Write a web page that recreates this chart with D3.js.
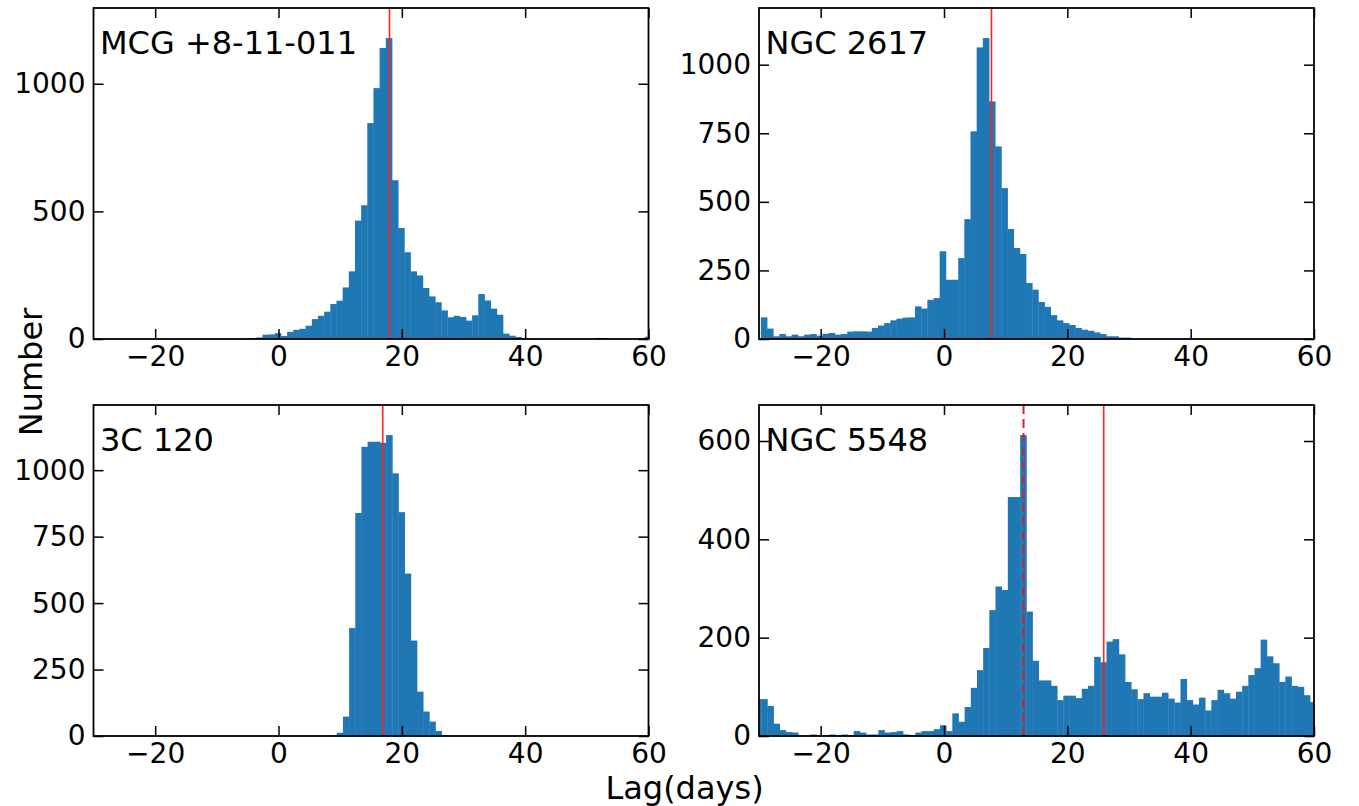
<!DOCTYPE html>
<html><head><meta charset="utf-8">
<script src="https://cdn.jsdelivr.net/npm/d3@7"></script>
<style>body{margin:0;background:#fff} svg text{font-family:"DejaVu Sans",sans-serif;fill:#000}</style>
</head><body>
<svg id="chart" width="1359" height="806"></svg>
<script>
// ---------------- data ----------------
const xTicks = [-20, 0, 20, 40, 60];
const objectNames = ["MCG +8-11-011", "NGC 2617", "3C 120", "NGC 5548"];
const binWidth = 1;
const binStarts = [-29.6, -29.7, -29.55, -30.65];

const countsMCG = [
  0,0,0,0,0,0,0,0,0,0, 0,0,0,0,0,0,0,0,0,0, 0,0,0,1,2,4,6,17,18,23,
  12,28,36,40,52,78,91,107,137,150, 202,265,464,524,846,983,1140,1179,622,435,
  340,265,249,200,167,144,112,85,91,86, 72,93,176,151,119,95,21,13,8,4,
  2,1,1,0,0,0,0,0,0,0, 0,4,4,1,0,0,0,0,4,9
];
const countsNGC2617 = [
  79,38,10,18,10,16,10,16,18,12, 19,22,16,18,27,28,28,27,40,49,
  58,68,74,78,79,119,111,143,149,320, 216,216,295,437,757,1063,1097,866,702,550,
  401,332,310,204,180,135,117,87,68,58, 51,40,34,30,24,18,10,10,5,5,
  0,0,0,0,0,0,0,0,0,0, 0,0,0,0,0,0,0,0,0,0, 0,0,0,0,0,0,0,0,0,0
];
const counts3C120 = [
  0,0,0,0,0,0,0,0,0,0, 0,0,0,0,0,0,0,0,0,0, 0,0,0,0,0,0,0,0,0,0,
  0,0,0,0,0,0,0,0,2,12, 73,406,839,1088,1107,1107,1103,1132,988,842,
  611,359,167,92,54,19,3,0,0,0, 0,0,0,0,0,0,0,0,0,0,
  0,0,0,0,0,0,0,0,0,0, 0,0,0,0,0,0,0,0,0,0
];
const countsNGC5548 = [
  75,75,61,25,12,8,7,1,1,3, 2,1,3,1,3,1,10,7,3,3,
  12,7,8,10,3,2,7,10,10,14, 22,10,46,29,59,98,134,179,256,304,
  297,486,486,612,253,153,113,113,102,73, 82,82,77,96,102,161,150,192,197,166,
  110,95,75,87,80,80,88,76,68,116, 73,64,78,52,73,94,87,76,90,102,
  124,138,196,162,148,110,121,102,100,83, 69
];
const allCounts = [countsMCG, countsNGC2617, counts3C120, countsNGC5548];

const yTicksMCG = [0, 500, 1000];
const yTicksNGC2617 = [0, 250, 500, 750, 1000];
const yTicks3C120 = [0, 250, 500, 750, 1000];
const yTicksNGC5548 = [0, 200, 400, 600];
const allYTicks = [yTicksMCG, yTicksNGC2617, yTicks3C120, yTicksNGC5548];

const lagSolid = [18.0, 7.7, 16.9, 25.9];
const lagDashed = [null, null, null, 12.9];

const xLabel = "Lag(days)";
const yLabel = "Number";

// ---------------- layout ----------------
const svg = d3.select("#chart");
const panelW = 555, panelH = 331;
const origins = [[93.5, 8], [759, 8], [93.5, 405], [759, 405]];
const barColor = "#1f77b4";
const fmt = d3.format("d");

allCounts.forEach((counts, p) => {
  const [ox, oy] = origins[p];
  const g = svg.append("g").attr("transform", `translate(${ox},${oy})`);
  const x = d3.scaleLinear().domain([-30, 60]).range([0, panelW]);
  const y = d3.scaleLinear().domain([0, d3.max(counts) * 1.1]).range([panelH, 0]);

  const clipId = "clip" + p;
  g.append("clipPath").attr("id", clipId).append("rect")
    .attr("width", panelW).attr("height", panelH);

  const bins = counts.map((c, i) => ({
    x0: binStarts[p] + i * binWidth,
    x1: binStarts[p] + (i + 1) * binWidth,
    c
  }));

  g.append("g").attr("clip-path", `url(#${clipId})`)
    .selectAll("rect").data(bins.filter(b => b.c > 0)).join("rect")
    .attr("x", b => x(b.x0))
    .attr("width", b => x(b.x1) - x(b.x0) + 0.4)
    .attr("y", b => y(b.c))
    .attr("height", b => panelH - y(b.c))
    .attr("fill", barColor);

  // reference lines
  const lines = g.append("g").attr("clip-path", `url(#${clipId})`);
  if (lagSolid[p] !== null) {
    lines.append("line")
      .attr("x1", x(lagSolid[p])).attr("x2", x(lagSolid[p]))
      .attr("y1", 0).attr("y2", panelH)
      .attr("stroke", "#ff2020").attr("stroke-width", 1.6);
  }
  if (lagDashed[p] !== null) {
    lines.append("line")
      .attr("x1", x(lagDashed[p])).attr("x2", x(lagDashed[p]))
      .attr("y1", 0).attr("y2", panelH)
      .attr("stroke", "#d62030").attr("stroke-width", 2)
      .attr("stroke-dasharray", "9,5");
  }

  const styleAxis = sel => {
    sel.select(".domain").remove();
    sel.selectAll(".tick line").attr("stroke", "#000").attr("stroke-width", 1.5);
    sel.selectAll(".tick text").attr("font-size", 28).attr("font-family", "DejaVu Sans");
  };

  g.append("g").attr("transform", `translate(0,${panelH})`)
    .call(d3.axisBottom(x).tickValues(xTicks).tickFormat(fmt).tickSizeInner(-10).tickSizeOuter(0).tickPadding(7))
    .call(styleAxis);
  g.append("g")
    .call(d3.axisTop(x).tickValues(xTicks).tickSizeInner(-10).tickSizeOuter(0).tickFormat(""))
    .call(styleAxis);
  g.append("g")
    .call(d3.axisLeft(y).tickValues(allYTicks[p]).tickFormat(fmt).tickSizeInner(-10).tickSizeOuter(0).tickPadding(8))
    .call(styleAxis);
  g.append("g").attr("transform", `translate(${panelW},0)`)
    .call(d3.axisRight(y).tickValues(allYTicks[p]).tickSizeInner(-10).tickSizeOuter(0).tickFormat(""))
    .call(styleAxis);

  g.append("rect").attr("width", panelW).attr("height", panelH)
    .attr("fill", "none").attr("stroke", "#000").attr("stroke-width", 1.8);

  g.append("text").attr("x", 6.5).attr("y", 45.5)
    .attr("font-size", 32).text(objectNames[p]);
});

svg.append("text").attr("x", 684.5).attr("y", 799)
  .attr("text-anchor", "middle").attr("font-size", 32).text(xLabel);
svg.append("text").attr("transform", "translate(42,372) rotate(-90)")
  .attr("text-anchor", "middle").attr("font-size", 32).text(yLabel);
</script>
</body></html>
